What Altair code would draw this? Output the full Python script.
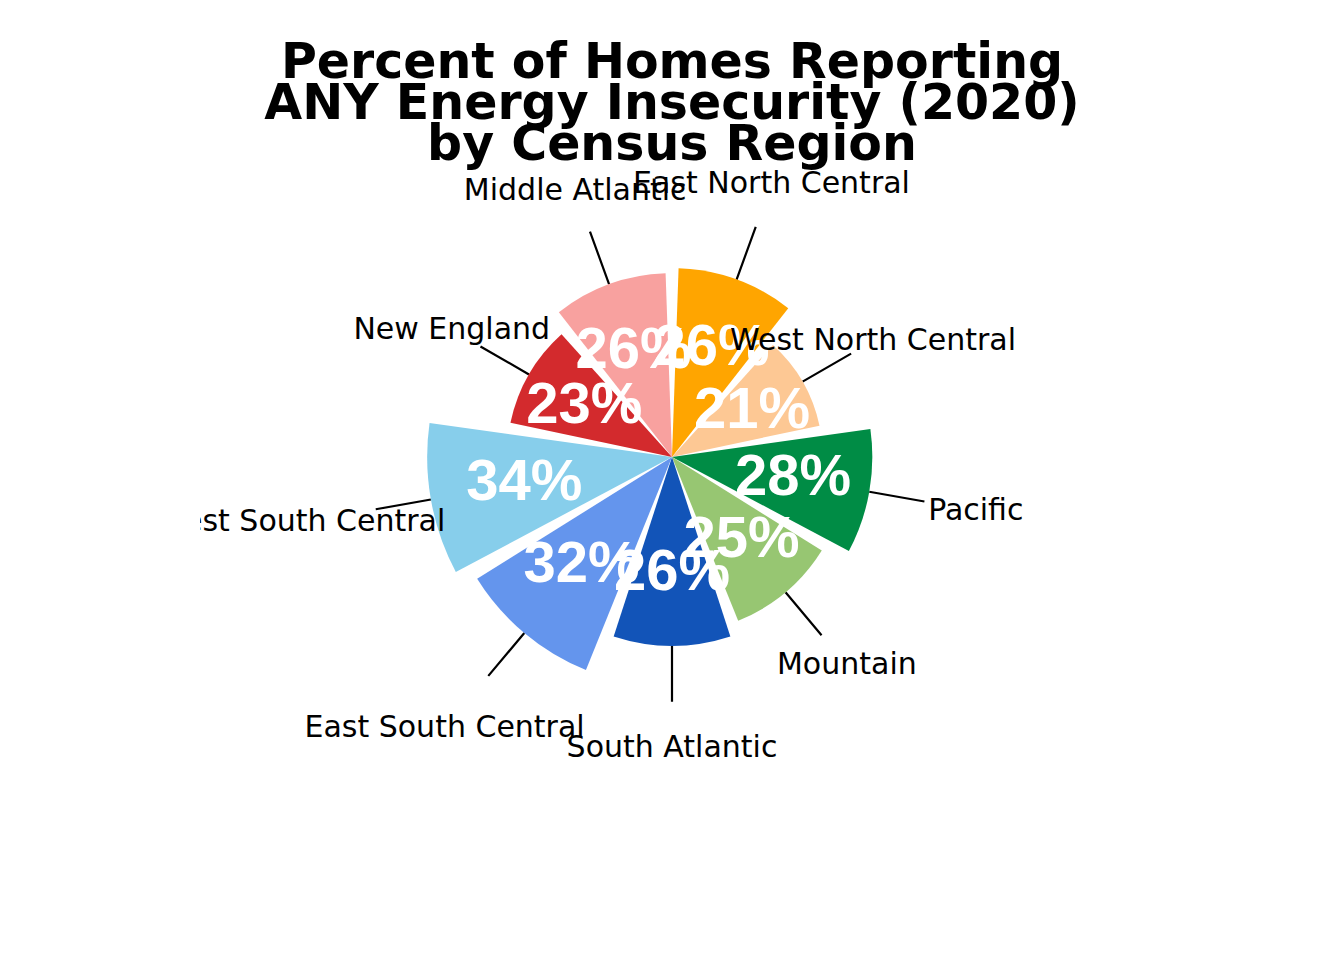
import altair as alt
import pandas as pd

# ---- data ----
regions = ["East North Central", "West North Central", "Pacific", "Mountain",
           "South Atlantic", "East South Central", "West South Central",
           "New England", "Middle Atlantic"]
values = [26.3, 21.0, 27.9, 24.6, 26.3, 32.0, 34.1, 23.0, 25.6]
colors = ["#FFA500", "#FDC894", "#008C45", "#97C672", "#1254B8",
          "#6495ED", "#87CEEB", "#D32A2D", "#F8A19F"]
slot = list(range(len(regions)))
title_lines = ["Percent of Homes Reporting",
               "ANY Energy Insecurity (2020)",
               "by Census Region"]

df = pd.DataFrame({"region": regions, "value": values, "slot": slot})

theta_scale = alt.Scale(domain=[0, 9], range=[0, 6.283185307179586])
r_scale = alt.Scale(type="linear", domain=[0, 50], range=[0, 359], zero=True)
cx = alt.value(472)
cy = alt.value(292)

base = alt.Chart(df).transform_calculate(
    t0="datum.slot + 0.05",
    t1="datum.slot + 0.95",
    tm="datum.slot + 0.5",
    r_lab="datum.value * 0.613",
    r_l1="datum.value",
    r_l2="datum.value + 7.8",
    r_out="datum.value * 1.54",
    pct="format(datum.value, '.0f') + '%'",
)

leaders = base.mark_arc(stroke="black", strokeWidth=2.2, fillOpacity=0).encode(
    theta=alt.Theta("tm:Q", scale=theta_scale, stack=False),
    theta2="tm:Q",
    radius=alt.Radius("r_l1:Q", scale=r_scale),
    radius2="r_l2:Q",
    x=cx, y=cy,
)

wedges = base.mark_arc().encode(
    theta=alt.Theta("t0:Q", scale=theta_scale, stack=False),
    theta2="t1:Q",
    radius=alt.Radius("value:Q", scale=r_scale),
    color=alt.Color("region:N", scale=alt.Scale(domain=regions, range=colors), legend=None),
    x=cx, y=cy,
)

pct_text = base.mark_text(font="Liberation Sans", fontSize=58, fontWeight="bold",
                          color="white", align="center", baseline="middle").encode(
    theta=alt.Theta("tm:Q", scale=theta_scale, stack=False),
    radius=alt.Radius("r_lab:Q", scale=r_scale),
    text="pct:N",
    x=cx, y=cy,
)

out_text = base.mark_text(font="DejaVu Sans", fontSize=30, color="black",
                          align="center", baseline="middle", clip=True).encode(
    theta=alt.Theta("tm:Q", scale=theta_scale, stack=False),
    radius=alt.Radius("r_out:Q", scale=r_scale),
    text="region:N",
    x=cx, y=cy,
)

chart = alt.layer(leaders, wedges, pct_text, out_text).properties(
    width=944,
    height=795,
    autosize=alt.AutoSizeParams(type="none"),
    padding={"left": 200, "top": 165, "right": 200, "bottom": 0},
    title=alt.TitleParams(text=title_lines, font="DejaVu Sans", fontSize=49,
                          fontWeight="bold", lineHeight=41, anchor="middle",
                          frame="group", offset=-5, color="black"),
).configure_view(strokeOpacity=0)

chart.save("out.html", embed_options={"renderer": "svg", "actions": False})
